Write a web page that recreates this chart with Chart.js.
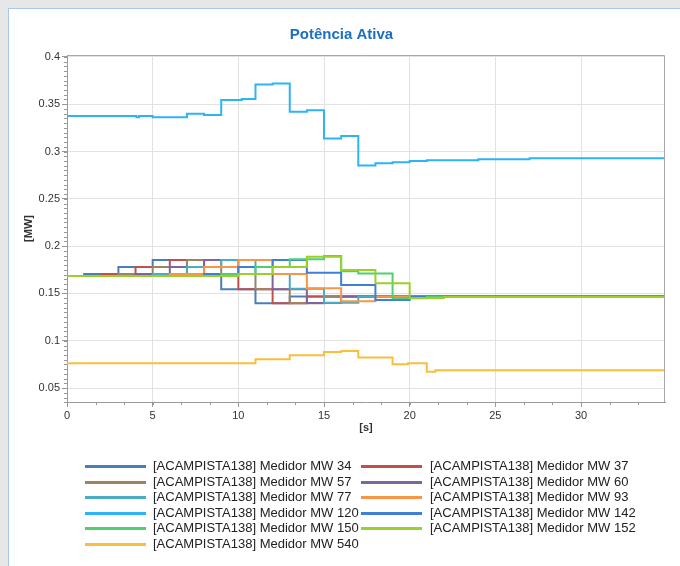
<!DOCTYPE html>
<html lang="pt">
<head>
    <meta charset="UTF-8">
    <title>Potência Ativa</title>
    <script src="https://cdn.jsdelivr.net/npm/chart.js@4.4.1/dist/chart.umd.min.js"></script>
    <style>
        html, body { margin: 0; padding: 0; background: #e7e7e7; overflow: hidden; width: 680px; height: 566px; }
        #painel { position: absolute; left: 8px; top: 8px; width: 700px; height: 600px; background: #fff;
                  border-left: 1px solid #a6c8ec; border-top: 1px solid #a6c8ec; }
        #grafico { position: absolute; left: 0; top: 0; }
        #legenda { position: absolute; left: 0; top: 0; font: 13px "Liberation Sans", Arial, sans-serif; color: #222; }
        .item { position: absolute; height: 16px; line-height: 16px; white-space: nowrap; }
        .linha { position: absolute; top: 7px; height: 3px; }
    </style>
</head>
<body>
<div id="painel"></div>
<canvas id="grafico" width="680" height="566"></canvas>
<div id="legenda"></div>

<script>
    // medidores (ordem da legenda)
    var medidores = ['34', '37', '57', '60', '77', '93', '120', '142', '150', '152', '540'];
    var cores = ['#4a7ebb', '#c0504d', '#9b8462', '#8064a2', '#4bacc6', '#f79646',
                 '#2db4f7', '#3f7fd6', '#4fd06e', '#9bcf2a', '#f8be3c'];

    // marcas dos eixos
    var ticksX = [0, 5, 10, 15, 20, 25, 30];
    var ticksY = [0.05, 0.1, 0.15, 0.2, 0.25, 0.3, 0.35, 0.4];

    // tempos [s] e potencias [MW]
    var t34 = [0, 1, 3, 5, 7, 9, 11, 13, 34.9];
    var mw34 = [0.1685, 0.1706, 0.178, 0.1854, 0.1706, 0.1545, 0.1396, 0.1468, 0.1468];
    var t37 = [0, 2, 4, 6, 8, 10, 12, 14, 34.9];
    var mw37 = [0.1685, 0.1706, 0.178, 0.1854, 0.1706, 0.1545, 0.1396, 0.1468, 0.1468];
    var t57 = [0, 3, 5, 7, 9, 11, 13, 15, 34.9];
    var mw57 = [0.1685, 0.1706, 0.178, 0.1854, 0.1706, 0.1545, 0.1396, 0.1467, 0.1467];
    var t60 = [0, 4, 6, 8, 10, 12, 14, 16, 34.9];
    var mw60 = [0.1685, 0.1706, 0.178, 0.1854, 0.1706, 0.1545, 0.1398, 0.1467, 0.1467];
    var t77 = [0, 5, 7, 9, 11, 13, 15, 17, 34.9];
    var mw77 = [0.1685, 0.1706, 0.178, 0.1854, 0.1706, 0.1550, 0.1403, 0.1466, 0.1466];
    var t93 = [0, 6, 8, 10, 12, 14, 16, 18, 34.9];
    var mw93 = [0.1685, 0.1706, 0.178, 0.1854, 0.1706, 0.1555, 0.1418, 0.1466, 0.1466];
    var t120 = [0, 4.05, 4.2, 5, 7, 8, 9, 10.2, 11, 12, 13, 14, 15, 16, 17, 18, 19, 20, 21, 24, 27, 34.9];
    var mw120 = [0.3376, 0.3362, 0.3376, 0.3363, 0.3400, 0.3387, 0.3545, 0.3556, 0.3707, 0.3720, 0.3419,
                 0.3437, 0.3137, 0.3165, 0.2851, 0.2876, 0.2887, 0.2900, 0.2908, 0.2918, 0.2929, 0.2929];
    var t142 = [0, 8, 10, 12, 14, 16, 18, 20, 34.9];
    var mw142 = [0.1685, 0.1706, 0.178, 0.1854, 0.1720, 0.1590, 0.1431, 0.1465, 0.1465];
    var t150 = [0, 9, 11, 13, 15, 16, 17, 19, 21, 34.9];
    var mw150 = [0.1685, 0.1706, 0.178, 0.1861, 0.1896, 0.1735, 0.1712, 0.1449, 0.1463, 0.1463];
    var t152 = [0, 10, 12, 14, 16, 18, 20, 22, 34.9];
    var mw152 = [0.1685, 0.1706, 0.178, 0.1889, 0.1748, 0.1608, 0.1452, 0.1463, 0.1463];
    var t540 = [0, 11, 13, 15, 16, 17, 19, 19.9, 21, 21.5, 34.9];
    var mw540 = [0.0762, 0.0804, 0.0847, 0.0882, 0.0893, 0.0822, 0.0752, 0.0762, 0.0673, 0.0688, 0.0688];

    var tempos = [t34, t37, t57, t60, t77, t93, t120, t142, t150, t152, t540];
    var valores = [mw34, mw37, mw57, mw60, mw77, mw93, mw120, mw142, mw150, mw152, mw540];

    var fonte = '"Liberation Sans", Arial, sans-serif';

    var datasets = medidores.map(function (m, i) {
        return {
            label: '[ACAMPISTA138] Medidor MW ' + m,
            data: tempos[i].map(function (t, k) { return {x: t, y: valores[i][k]}; }),
            borderColor: cores[i],
            backgroundColor: cores[i],
            borderWidth: 2,
            pointRadius: 0,
            stepped: true,
            order: medidores.length - i   // os ultimos ficam por cima
        };
    });

    // tracinhos menores dos eixos + moldura da area do grafico
    var marcasMenores = {
        id: 'marcasMenores',
        afterDraw: function (chart) {
            var c = chart.ctx, a = chart.chartArea;
            var sx = chart.scales.x, sy = chart.scales.y;
            c.save();
            c.strokeStyle = '#999';
            c.lineWidth = 1;
            c.beginPath();
            for (var v = 0.035; v <= 0.4001; v += 0.005) {
                var py = Math.round(sy.getPixelForValue(v)) + 0.5;
                c.moveTo(a.left - 3, py);
                c.lineTo(a.left, py);
            }
            for (var t = 0; t <= 34.9; t += 5 / 3) {
                var px = Math.round(sx.getPixelForValue(t)) + 0.5;
                c.moveTo(px, a.bottom);
                c.lineTo(px, a.bottom + 3);
            }
            c.stroke();
            c.strokeStyle = '#a8a8a8';
            c.beginPath();
            c.moveTo(a.left, a.top + 0.5);
            c.lineTo(a.right - 0.5, a.top + 0.5);
            c.lineTo(a.right - 0.5, a.bottom);
            c.stroke();
            c.restore();
        }
    };

    function fixarTicks(lista) {
        return function (scale) {
            scale.ticks = lista.map(function (v) { return {value: v}; });
        };
    }

    var ctx = document.getElementById('grafico').getContext('2d');
    var chart = new Chart(ctx, {
        type: 'line',
        data: {datasets: datasets},
        plugins: [marcasMenores],
        options: {
            responsive: false,
            animation: false,
            devicePixelRatio: 1,
            layout: {padding: {top: 26, left: 18, right: 15, bottom: 124}},
            plugins: {
                legend: {display: false},
                tooltip: {enabled: false},
                title: {
                    display: true,
                    text: 'Potência Ativa',
                    color: '#1d6fc1',
                    font: {family: fonte, size: 15, weight: 'bold'},
                    padding: {top: 0, bottom: 11}
                }
            },
            scales: {
                x: {
                    type: 'linear',
                    min: 0,
                    max: 34.9,
                    afterBuildTicks: fixarTicks(ticksX),
                    afterFit: function (s) { s.height = 40; },
                    ticks: {maxRotation: 0, padding: 2, color: '#333', font: {family: fonte, size: 11},
                            callback: function (v) { return String(v); }},
                    grid: {color: '#e2e2e2', tickLength: 5, tickColor: '#999'},
                    border: {color: '#9a9a9a'},
                    title: {display: true, text: '[s]', color: '#333', font: {family: fonte, size: 11, weight: 'bold'},
                            padding: {top: 0, bottom: 7}}
                },
                y: {
                    min: 0.0353,
                    max: 0.402,
                    afterBuildTicks: fixarTicks(ticksY),
                    afterFit: function (s) { s.width = 49; },
                    ticks: {
                        padding: 2, color: '#333', font: {family: fonte, size: 11},
                        callback: function (v) { return String(Math.round(v * 100) / 100); }
                    },
                    grid: {color: '#e2e2e2', tickLength: 5, tickColor: '#999'},
                    border: {color: '#9a9a9a'},
                    title: {display: true, text: '[MW]', color: '#333', font: {family: fonte, size: 11, weight: 'bold'},
                            padding: {top: 4, bottom: 0}}
                }
            }
        }
    });

    // legenda em duas colunas
    var legenda = document.getElementById('legenda');
    datasets.forEach(function (ds, i) {
        var col = i % 2, lin = Math.floor(i / 2);
        var item = document.createElement('div');
        item.className = 'item';
        item.style.left = (col ? 361 : 85) + 'px';
        item.style.top = (458 + lin * 15.6) + 'px';
        var linha = document.createElement('span');
        linha.className = 'linha';
        linha.style.left = '0px';
        linha.style.width = '61px';
        linha.style.background = ds.borderColor;
        item.appendChild(linha);
        var txt = document.createElement('span');
        txt.style.marginLeft = (col ? 69 : 68) + 'px';
        txt.textContent = ds.label;
        item.appendChild(txt);
        legenda.appendChild(item);
    });
</script>
</body>
</html>
